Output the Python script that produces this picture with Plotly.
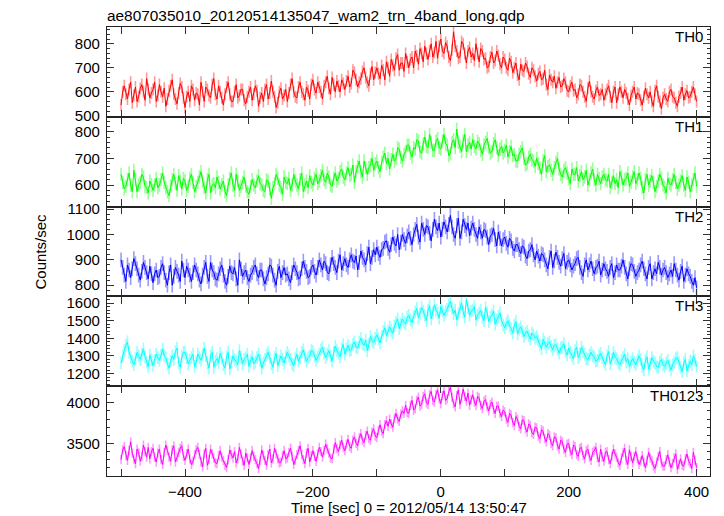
import plotly.graph_objects as go
from plotly.subplots import make_subplots

# time bins (sec), 2.5 s spacing from -500 to 400
time_sec = [-500 + 2.5 * i for i in range(361)]

th0 = [
    545, 600, 625, 590, 570, 610, 640, 555, 585, 620, 560, 580, 615, 630, 600, 565, 655, 610, 575, 595,
    610, 640, 560, 585, 630, 600, 580, 615, 540, 570, 605, 625, 650, 590, 570, 550, 595, 635, 620, 575,
    535, 580, 600, 560, 625, 610, 565, 595, 590, 545, 640, 600, 560, 620, 610, 585, 575, 630, 655, 590,
    570, 625, 600, 575, 545, 590, 620, 640, 590, 560, 560, 600, 630, 575, 585, 610, 610, 565, 550, 580,
    600, 620, 565, 590, 625, 605, 540, 575, 595, 560, 610, 630, 570, 595, 645, 600, 580, 535, 555, 600,
    615, 570, 585, 610, 560, 595, 630, 655, 600, 580, 575, 620, 640, 600, 590, 565, 620, 605, 570, 630,
    650, 610, 595, 640, 620, 600, 570, 625, 640, 665, 615, 590, 660, 630, 600, 645, 625, 600, 650, 635,
    610, 645, 665, 620, 635, 690, 680, 650, 620, 640, 655, 685, 700, 660, 640, 625, 675, 705, 650, 680,
    700, 675, 655, 710, 690, 650, 725, 700, 665, 735, 710, 690, 740, 755, 690, 720, 720, 685, 760, 725,
    700, 735, 745, 700, 770, 750, 715, 780, 760, 725, 790, 760, 735, 770, 800, 745, 765, 810, 740, 790,
    820, 770, 760, 805, 790, 745, 730, 775, 850, 790, 770, 740, 745, 810, 800, 760, 720, 770, 785, 745,
    760, 730, 800, 760, 725, 780, 770, 735, 740, 700, 705, 745, 765, 720, 730, 770, 750, 715, 700, 745,
    735, 700, 690, 740, 725, 680, 700, 720, 670, 650, 715, 690, 685, 720, 705, 675, 660, 700, 690, 665,
    645, 675, 685, 650, 655, 690, 630, 610, 670, 650, 640, 665, 615, 640, 660, 620, 625, 655, 640, 605,
    600, 625, 640, 605, 610, 575, 590, 630, 625, 600, 580, 560, 615, 645, 600, 580, 570, 605, 620, 585,
    590, 610, 565, 590, 610, 625, 580, 555, 600, 620, 555, 590, 620, 600, 575, 610, 595, 570, 545, 585,
    600, 620, 570, 595, 590, 565, 545, 580, 615, 590, 575, 600, 560, 540, 605, 625, 580, 560, 530, 575,
    590, 570, 560, 600, 610, 580, 575, 555, 540, 580, 595, 620, 565, 590, 605, 575, 580, 600, 620, 590,
    560,
]

th1 = [
    640, 610, 585, 595, 620, 645, 600, 575, 655, 620, 575, 600, 610, 640, 630, 595, 590, 570, 615, 600,
    580, 600, 625, 590, 600, 620, 645, 610, 590, 575, 560, 595, 620, 640, 605, 580, 635, 615, 585, 625,
    615, 580, 595, 625, 640, 610, 575, 595, 610, 630, 650, 615, 590, 570, 620, 640, 570, 600, 605, 590,
    630, 610, 585, 600, 615, 575, 560, 600, 625, 645, 600, 580, 640, 615, 580, 595, 610, 630, 595, 575,
    565, 595, 620, 600, 590, 615, 635, 605, 600, 580, 575, 620, 615, 585, 550, 590, 605, 640, 625, 600,
    590, 565, 630, 610, 605, 625, 580, 600, 640, 615, 600, 585, 620, 645, 575, 600, 615, 590, 635, 610,
    600, 625, 640, 605, 615, 635, 655, 620, 610, 645, 630, 600, 595, 625, 645, 615, 625, 650, 660, 630,
    620, 645, 665, 635, 640, 675, 610, 650, 670, 690, 650, 630, 690, 665, 640, 665, 675, 700, 655, 680,
    690, 665, 650, 685, 705, 720, 680, 700, 660, 695, 715, 690, 700, 740, 735, 705, 690, 715, 725, 750,
    750, 720, 705, 740, 735, 770, 765, 725, 720, 755, 780, 745, 740, 790, 760, 730, 730, 765, 775, 740,
    735, 765, 790, 755, 750, 710, 720, 760, 770, 740, 810, 760, 745, 725, 765, 790, 725, 750, 760, 735,
    770, 745, 735, 765, 755, 730, 715, 750, 760, 775, 740, 720, 725, 755, 770, 740, 710, 735, 745, 720,
    730, 750, 705, 725, 745, 710, 715, 690, 690, 715, 725, 740, 700, 675, 680, 705, 715, 695, 690, 670,
    700, 680, 665, 640, 690, 710, 650, 670, 675, 655, 640, 665, 685, 700, 660, 640, 630, 655, 665, 645,
    625, 605, 660, 640, 640, 665, 615, 635, 650, 620, 630, 655, 600, 620, 645, 660, 620, 600, 640, 625,
    605, 630, 640, 620, 615, 640, 590, 610, 635, 605, 620, 590, 650, 630, 600, 620, 625, 645, 595, 610,
    630, 650, 605, 620, 645, 625, 590, 570, 620, 640, 600, 615, 635, 610, 575, 595, 615, 640, 625, 600,
    590, 570, 625, 605, 600, 620, 640, 610, 585, 600, 615, 635, 600, 580, 630, 610, 575, 600, 620, 645,
    595,
]

th2 = [
    900, 870, 840, 815, 880, 860, 830, 865, 905, 885, 865, 840, 820, 855, 890, 870, 850, 825, 875, 845,
    810, 845, 860, 830, 835, 870, 885, 850, 820, 800, 850, 880, 800, 835, 870, 855, 840, 815, 895, 860,
    830, 875, 860, 840, 815, 850, 880, 860, 845, 820, 805, 840, 870, 890, 835, 815, 890, 860, 850, 825,
    820, 845, 865, 880, 840, 815, 800, 835, 875, 850, 845, 870, 825, 800, 900, 865, 835, 850, 860, 830,
    815, 840, 850, 870, 880, 845, 830, 860, 860, 825, 805, 830, 845, 880, 875, 840, 820, 800, 855, 875,
    830, 850, 870, 840, 845, 825, 810, 850, 880, 865, 850, 825, 830, 865, 895, 870, 855, 830, 835, 870,
    880, 855, 840, 870, 900, 880, 860, 895, 885, 850, 845, 880, 910, 885, 870, 850, 895, 920, 860, 885,
    905, 880, 870, 900, 920, 895, 890, 915, 860, 890, 935, 910, 900, 880, 925, 950, 885, 910, 940, 920,
    950, 925, 910, 940, 945, 970, 975, 945, 930, 960, 990, 965, 955, 1000, 940, 970, 1000, 980, 965, 995,
    1010, 985, 960, 1000, 1020, 1040, 990, 970, 1045, 1020, 1000, 1035, 1030, 1005, 975, 1020, 1060, 1030, 1015, 1045,
    990, 1020, 1050, 1030, 1010, 1040, 1075, 1030, 1000, 985, 1035, 1065, 985, 1010, 1060, 1035, 1020, 1045, 995, 1025,
    1045, 1020, 1000, 985, 1030, 1010, 985, 1020, 1015, 990, 960, 995, 1000, 1025, 980, 955, 1010, 985, 955, 980,
    990, 965, 950, 985, 975, 945, 935, 960, 960, 940, 925, 955, 950, 915, 905, 935, 940, 960, 920, 900,
    935, 915, 895, 925, 920, 900, 880, 865, 910, 935, 870, 895, 930, 910, 890, 875, 905, 925, 865, 890,
    900, 880, 860, 875, 885, 905, 910, 870, 850, 835, 880, 900, 860, 880, 895, 865, 845, 870, 875, 895,
    840, 860, 885, 865, 855, 835, 870, 885, 830, 850, 880, 860, 860, 875, 900, 870, 845, 825, 865, 885,
    880, 855, 835, 850, 860, 880, 895, 865, 845, 825, 870, 885, 825, 850, 865, 845, 890, 870, 840, 860,
    870, 850, 830, 845, 860, 835, 885, 860, 840, 820, 855, 875, 815, 840, 865, 845, 835, 815, 800, 830,
    790,
]

th3 = [
    1260, 1300, 1330, 1360, 1380, 1320, 1290, 1270, 1250, 1285, 1320, 1300, 1280, 1310, 1340, 1295, 1265, 1240, 1305, 1280,
    1245, 1275, 1310, 1290, 1275, 1305, 1340, 1300, 1290, 1255, 1230, 1270, 1300, 1280, 1325, 1345, 1260, 1235, 1295, 1320,
    1320, 1290, 1255, 1275, 1290, 1310, 1240, 1265, 1310, 1290, 1275, 1305, 1345, 1300, 1260, 1230, 1300, 1320, 1235, 1270,
    1285, 1260, 1315, 1290, 1250, 1230, 1295, 1320, 1225, 1265, 1300, 1280, 1270, 1250, 1330, 1295, 1255, 1280, 1290, 1310,
    1240, 1270, 1295, 1255, 1265, 1290, 1310, 1275, 1230, 1260, 1280, 1305, 1320, 1290, 1255, 1235, 1290, 1315, 1245, 1270,
    1300, 1280, 1260, 1295, 1320, 1300, 1280, 1255, 1245, 1285, 1310, 1270, 1290, 1320, 1335, 1300, 1270, 1290, 1300, 1330,
    1325, 1300, 1275, 1295, 1310, 1335, 1350, 1315, 1290, 1310, 1330, 1300, 1270, 1320, 1355, 1330, 1315, 1295, 1340, 1365,
    1310, 1340, 1360, 1330, 1335, 1365, 1380, 1350, 1345, 1375, 1400, 1370, 1360, 1390, 1330, 1365, 1410, 1385, 1375, 1400,
    1420, 1395, 1375, 1410, 1440, 1460, 1415, 1440, 1465, 1445, 1430, 1470, 1490, 1510, 1455, 1480, 1510, 1490, 1480, 1520,
    1530, 1505, 1490, 1525, 1550, 1570, 1515, 1540, 1575, 1555, 1530, 1500, 1560, 1585, 1510, 1545, 1590, 1560, 1545, 1515,
    1580, 1555, 1530, 1550, 1565, 1590, 1610, 1570, 1540, 1560, 1505, 1540, 1575, 1600, 1550, 1520, 1620, 1575, 1530, 1555,
    1560, 1580, 1505, 1530, 1545, 1560, 1520, 1500, 1575, 1545, 1495, 1520, 1530, 1555, 1480, 1505, 1525, 1545, 1500, 1475,
    1460, 1485, 1500, 1470, 1455, 1430, 1475, 1495, 1425, 1450, 1465, 1440, 1410, 1430, 1440, 1415, 1395, 1430, 1420, 1400,
    1410, 1385, 1365, 1340, 1395, 1375, 1350, 1370, 1380, 1355, 1335, 1360, 1365, 1340, 1315, 1345, 1350, 1370, 1325, 1305,
    1345, 1320, 1300, 1285, 1330, 1350, 1290, 1310, 1350, 1325, 1310, 1285, 1280, 1305, 1320, 1300, 1295, 1270, 1275, 1300,
    1315, 1290, 1270, 1250, 1300, 1325, 1255, 1280, 1320, 1295, 1285, 1260, 1250, 1275, 1290, 1310, 1265, 1285, 1240, 1265,
    1285, 1265, 1250, 1275, 1300, 1280, 1240, 1220, 1275, 1295, 1225, 1255, 1290, 1270, 1260, 1240, 1235, 1265, 1280, 1250,
    1240, 1260, 1275, 1245, 1220, 1250, 1265, 1285, 1290, 1260, 1235, 1210, 1260, 1280, 1215, 1245, 1270, 1250, 1300, 1275,
    1240,
]

th0123 = [
    3300, 3420, 3460, 3350, 3290, 3410, 3520, 3380, 3310, 3250, 3430, 3390, 3280, 3340, 3480, 3400, 3330, 3450, 3310, 3400,
    3440, 3330, 3270, 3380, 3430, 3300, 3240, 3390, 3480, 3410, 3330, 3280, 3420, 3470, 3270, 3330, 3390, 3440, 3470, 3340,
    3290, 3370, 3430, 3310, 3240, 3280, 3360, 3420, 3450, 3360, 3270, 3210, 3370, 3440, 3230, 3300, 3430, 3370, 3320, 3260,
    3250, 3350, 3410, 3330, 3290, 3230, 3200, 3300, 3420, 3360, 3320, 3400, 3260, 3310, 3450, 3370, 3280, 3230, 3380, 3320,
    3240, 3320, 3410, 3340, 3300, 3250, 3190, 3290, 3420, 3350, 3290, 3230, 3360, 3430, 3260, 3310, 3440, 3370, 3310, 3260,
    3270, 3350, 3410, 3310, 3320, 3390, 3440, 3340, 3240, 3290, 3360, 3410, 3470, 3360, 3300, 3250, 3380, 3440, 3270, 3350,
    3410, 3340, 3280, 3370, 3450, 3400, 3330, 3410, 3490, 3430, 3380, 3320, 3310, 3430, 3510, 3440, 3400, 3480, 3540, 3450,
    3410, 3490, 3550, 3460, 3440, 3540, 3580, 3500, 3470, 3570, 3620, 3540, 3510, 3600, 3650, 3560, 3540, 3640, 3680, 3590,
    3570, 3660, 3730, 3650, 3620, 3730, 3780, 3710, 3800, 3740, 3700, 3810, 3870, 3800, 3770, 3860, 3900, 3870, 3970, 3880,
    3870, 3970, 4030, 3910, 3930, 4030, 4070, 3960, 3980, 4080, 4110, 4000, 3980, 4100, 4140, 4030, 4010, 4100, 4160, 4050,
    3990, 4090, 4150, 4030, 4050, 4140, 4190, 4070, 3990, 3950, 4090, 4160, 3980, 4060, 4170, 4080, 4020, 4120, 3970, 4040,
    4100, 4010, 3970, 4080, 4060, 3970, 3930, 4020, 4040, 3950, 3900, 3980, 4010, 3920, 3870, 3960, 3960, 3870, 3830, 3910,
    3890, 3800, 3760, 3870, 3850, 3760, 3720, 3830, 3800, 3710, 3680, 3790, 3780, 3680, 3640, 3740, 3720, 3630, 3610, 3700,
    3690, 3590, 3560, 3670, 3650, 3560, 3520, 3620, 3600, 3500, 3470, 3580, 3570, 3470, 3430, 3540, 3520, 3430, 3390, 3490,
    3500, 3400, 3360, 3480, 3460, 3360, 3340, 3440, 3450, 3350, 3310, 3410, 3430, 3330, 3290, 3390, 3410, 3450, 3320, 3270,
    3430, 3330, 3280, 3390, 3400, 3300, 3250, 3340, 3430, 3370, 3330, 3260, 3230, 3320, 3390, 3440, 3290, 3240, 3420, 3340,
    3260, 3340, 3400, 3310, 3240, 3280, 3350, 3270, 3200, 3290, 3390, 3320, 3290, 3220, 3190, 3270, 3340, 3400, 3260, 3220,
    3220, 3300, 3360, 3270, 3200, 3250, 3320, 3370, 3180, 3240, 3310, 3230, 3220, 3310, 3370, 3280, 3250, 3190, 3390, 3290,
    3200,
]

# typical 1-sigma error per band (counts/sec)
errors = [25, 25, 29, 36, 57]

band_names = ["TH0", "TH1", "TH2", "TH3", "TH0123"]
series = [th0, th1, th2, th3, th0123]
colors = ["#ff0000", "#00ff00", "#0000ff", "#00ffff", "#ff00ff"]
err_colors = ["rgba(255,0,0,0.4)", "rgba(0,255,0,0.4)", "rgba(0,0,255,0.4)",
              "rgba(0,255,255,0.4)", "rgba(255,0,255,0.4)"]

y_ranges = [[496, 870], [519, 856], [756, 1110], [1128, 1638], [3098, 4205]]
y_dticks = [100, 100, 100, 100, 500]
y_minor = [20, 20, 20, 20, 100]

FONT = "Liberation Sans, Arial, Helvetica, sans-serif"

fig = make_subplots(rows=5, cols=1, shared_xaxes=True, vertical_spacing=0)

for i, (name, ys) in enumerate(zip(band_names, series)):
    fig.add_trace(go.Scatter(
        x=time_sec, y=ys, mode="lines", name=name,
        line=dict(color=colors[i], width=1),
        error_y=dict(type="constant", value=errors[i], color=err_colors[i],
                     thickness=1.6, width=0),
        showlegend=False,
    ), row=i + 1, col=1)

    fig.update_yaxes(
        range=y_ranges[i], dtick=y_dticks[i], tick0=0,
        ticks="inside", ticklen=7, tickwidth=1, tickcolor="#333",
        minor=dict(dtick=y_minor[i], ticks="inside", ticklen=3, tickcolor="#333"),
        showline=True, linecolor="#222", linewidth=1.3, mirror="ticks",
        showgrid=False, zeroline=False, automargin=False, ticklabelstandoff=3,
        tickfont=dict(family=FONT, size=15, color="black"),
        row=i + 1, col=1,
    )
    fig.update_xaxes(
        range=[-522, 421], dtick=200, tick0=0,
        ticks="inside", ticklen=7, tickwidth=1, tickcolor="#333",
        minor=dict(dtick=100, ticks="inside", ticklen=7, tickcolor="#333"),
        showline=True, linecolor="#222", linewidth=1.3, mirror="ticks",
        showgrid=False, zeroline=False, automargin=False, ticklabelstandoff=2,
        tickfont=dict(family=FONT, size=15, color="black"),
        row=i + 1, col=1,
    )

# panel labels
for i, name in enumerate(band_names):
    yref = "y domain" if i == 0 else f"y{i + 1} domain"
    xref = "x domain" if i == 0 else f"x{i + 1} domain"
    fig.add_annotation(text=name, xref=xref, yref=yref, x=1, y=1,
                       xanchor="right", yanchor="top", xshift=-5, yshift=1,
                       showarrow=False,
                       font=dict(family=FONT, size=15, color="black"))

fig.add_annotation(text="Counts/sec", xref="paper", yref="paper", x=0, y=0.5,
                   xanchor="center", yanchor="middle",
                   xshift=-67, textangle=-90, showarrow=False,
                   font=dict(family=FONT, size=15, color="black"))

fig.add_annotation(text="Time [sec] 0 = 2012/05/14 13:50:47",
                   xref="paper", yref="paper", x=0.5, y=0,
                   xanchor="center", yanchor="middle", yshift=-31,
                   showarrow=False,
                   font=dict(family=FONT, size=15, color="black"))

fig.add_annotation(text="ae807035010_20120514135047_wam2_trn_4band_long.qdp",
                   xref="paper", yref="paper", x=0, y=1, xanchor="left",
                   yanchor="bottom", xshift=-2, yshift=1, showarrow=False,
                   font=dict(family=FONT, size=15.4, color="black"))

# page body has an 8px default margin, so the figure is sized to fit the window
fig.update_layout(
    width=716, height=508,
    margin=dict(l=99, r=14, t=19, b=40),
    paper_bgcolor="white", plot_bgcolor="white",
    font=dict(family=FONT, color="black"),
)

fig.write_html("out.html")
